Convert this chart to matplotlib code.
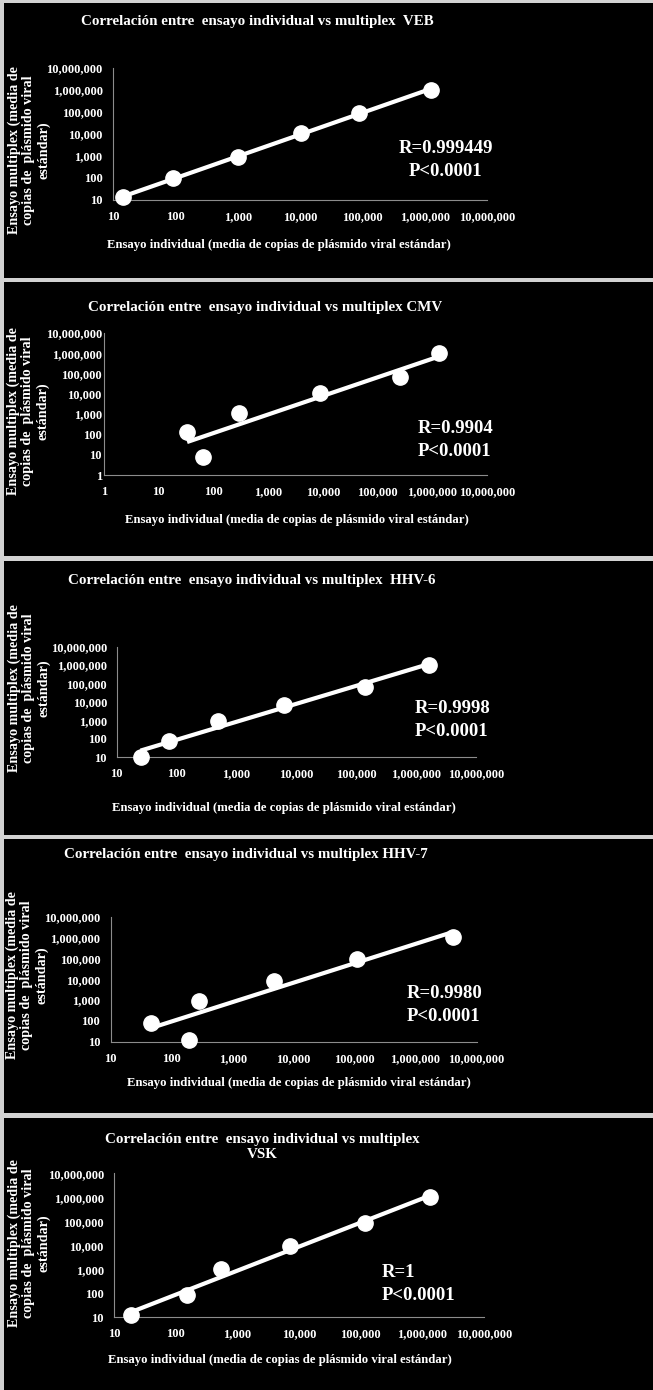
import numpy as np
import matplotlib
matplotlib.use("Agg")
import matplotlib.pyplot as plt
from matplotlib.ticker import FixedLocator, NullLocator

# ---------------- data ----------------
titles = [
    "Correlación entre  ensayo individual vs multiplex  VEB",
    "Correlación entre  ensayo individual vs multiplex CMV",
    "Correlación entre  ensayo individual vs multiplex  HHV-6",
    "Correlación entre  ensayo individual vs multiplex HHV-7",
    "Correlación entre  ensayo individual vs multiplex\nVSK",
]
stats_text = [
    "R=0.999449\nP<0.0001",
    "R=0.9904\nP<0.0001",
    "R=0.9998\nP<0.0001",
    "R=0.9980\nP<0.0001",
    "R=1\nP<0.0001",
]
veb_x = [14.5, 92, 1000, 10500, 90000, 1250000]
veb_y = [13, 100, 900, 11000, 90000, 1000000]
cmv_x = [33, 65, 297, 8700, 257000, 1320000]
cmv_y = [135, 7.4, 1100, 10500, 65000, 1050000]
hhv6_x = [25, 75, 490, 6300, 138000, 1620000]
hhv6_y = [10, 80, 980, 6900, 69000, 1050000]
hhv7_x = [45, 189, 276, 4720, 108000, 4100000]
hhv7_y = [77, 12, 910, 8300, 91000, 1120000]
vsk_x = [18.5, 152, 536, 7000, 119000, 1340000]
vsk_y = [12, 85, 1020, 9300, 83000, 1000000]

ticks_10 = [10, 100, 1000, 10000, 100000, 1000000, 10000000]
ticks_1 = [1, 10, 100, 1000, 10000, 100000, 1000000, 10000000]

xlabel = "Ensayo individual (media de copias de plásmido viral estándar)"
ylabel = "Ensayo multiplex (media de\ncopias de  plásmido viral\nestándar)"

# ---------------- layout (pixels) ----------------
W, H = 653, 1390
FONT = "Liberation Serif"

panels = [(3, 278), (282, 556), (561, 835), (839, 1113), (1118, 1390)]
axes_px = [(113, 68, 487, 200), (104, 333, 487, 475), (116.7, 646.7, 476, 757.3),
           (110.7, 916.7, 476.5, 1041.7), (114.3, 1173.3, 484, 1317.3)]
ytick_pad = [7.5, 1.5, 7.0, 7.5, 7.5]
title_px = [(257, 22), (265, 308), (252, 580), (246, 855), (262, 1147)]
xlab_px = [(279, 245), (297, 520), (284, 808), (299, 1083), (280, 1360)]
ylab_px = [(29, 150), (28, 411), (29, 688), (27, 975), (29, 1243)]
stat_px = [(446, 160, "center"), (418, 440, "left"), (415, 720, "left"),
           (407, 1005, "left"), (382, 1284, "left")]

datasets = [(veb_x, veb_y, ticks_10), (cmv_x, cmv_y, ticks_1), (hhv6_x, hhv6_y, ticks_10),
            (hhv7_x, hhv7_y, ticks_10), (vsk_x, vsk_y, ticks_10)]


def frac_rect(x0, y0, x1, y1):
    return [x0 / W, 1 - y1 / H, (x1 - x0) / W, (y1 - y0) / H]


def fx(x):
    return x / W


def fy(y):
    return 1 - y / H


fig = plt.figure(figsize=(W / 100, H / 100), dpi=100, facecolor="#d2d2d2")

for i, (x, y, ticks) in enumerate(datasets):
    # black panel background
    top, bot = panels[i]
    bg = fig.add_axes(frac_rect(4, top, W, bot))
    bg.set_facecolor("black")
    bg.set_xticks([])
    bg.set_yticks([])
    for s in bg.spines.values():
        s.set_visible(False)

    ax = fig.add_axes(frac_rect(*axes_px[i]))
    ax.set_facecolor("none")
    ax.set_xscale("log")
    ax.set_yscale("log")
    ax.set_xlim(ticks[0], ticks[-1])
    ax.set_ylim(ticks[0], ticks[-1])
    ax.xaxis.set_major_locator(FixedLocator(ticks))
    ax.yaxis.set_major_locator(FixedLocator(ticks))
    ax.xaxis.set_minor_locator(NullLocator())
    ax.yaxis.set_minor_locator(NullLocator())
    labels = [f"{t:,}" for t in ticks]
    ax.set_xticklabels(labels, fontfamily=FONT, fontweight="bold", fontsize=9.0, color="white")
    ax.set_yticklabels(labels, fontfamily=FONT, fontweight="bold", fontsize=9.0, color="white")
    ax.tick_params(axis="x", length=0, pad=8)
    ax.tick_params(axis="y", length=0, pad=ytick_pad[i])
    for s in ["top", "right"]:
        ax.spines[s].set_visible(False)
    for s in ["left", "bottom"]:
        ax.spines[s].set_color("#8c8c8c")
        ax.spines[s].set_linewidth(0.8)

    lx, ly = np.log10(x), np.log10(y)
    slope, icpt = np.polyfit(lx, ly, 1)
    xs = np.array([min(x), max(x)])
    ax.plot(xs, 10 ** (icpt + slope * np.log10(xs)), color="white", lw=3, zorder=2,
            solid_capstyle="butt")
    ax.plot(x, y, "o", color="white", markersize=11, markeredgecolor="white", zorder=3,
            clip_on=False)

    fig.text(fx(title_px[i][0]), fy(title_px[i][1]), titles[i], ha="center", va="center",
             color="white", fontfamily=FONT, fontweight="bold", fontsize=10.8,
             multialignment="center", linespacing=1.25)
    fig.text(fx(xlab_px[i][0]), fy(xlab_px[i][1]), xlabel, ha="center", va="center",
             color="white", fontfamily=FONT, fontweight="bold", fontsize=9.2)
    fig.text(fx(ylab_px[i][0]), fy(ylab_px[i][1]), ylabel, ha="center", va="center",
             rotation=90, color="white", fontfamily=FONT, fontweight="bold", fontsize=10.2,
             multialignment="center", linespacing=1.18)
    sx, sy, al = stat_px[i]
    fig.text(fx(sx), fy(sy), stats_text[i], ha=al, va="center", color="white",
             fontfamily=FONT, fontweight="bold", fontsize=13.5, multialignment=al,
             linespacing=1.45)

fig.savefig("out.png", dpi=100, facecolor=fig.get_facecolor())
